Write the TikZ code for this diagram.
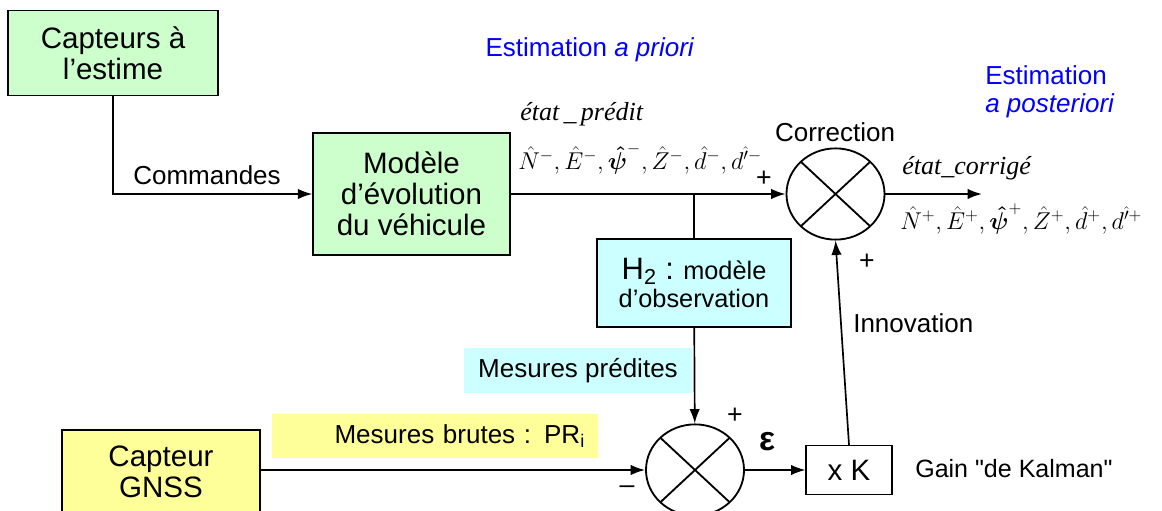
\documentclass[tikz,border=0pt]{standalone}
\usepackage{amsmath}
\usepackage{fontspec}
\setmainfont{Liberation Sans}
\newfontfamily\timesf{Liberation Serif}
\usetikzlibrary{arrows.meta, positioning, calc, shapes.geometric}
\definecolor{kfgreen}{HTML}{CCFFCC}
\definecolor{kfcyan}{HTML}{CCFFFF}
\definecolor{kfyellow}{HTML}{FFFF99}
\definecolor{kfblue}{HTML}{0000FF}
\tikzset{
  bloc/.style={rectangle, draw=black, line width=0.9pt, inner sep=0pt, align=center,
    font=\fontsize{21}{22}\selectfont},
  etiq/.style={inner sep=0pt, align=center, font=\fontsize{18.5}{21}\selectfont},
  fond/.style={rectangle, inner sep=0pt, align=center, font=\fontsize{18.5}{21}\selectfont},
  somme/.style={ellipse, draw=black, line width=1.3pt, minimum width=2.45cm, minimum height=2.28cm,
    inner sep=0pt,
    path picture={
      \draw[line width=1.3pt] ($(path picture bounding box.center)!0.707!(path picture bounding box.north west)$)
        -- ($(path picture bounding box.center)!0.707!(path picture bounding box.south east)$);
      \draw[line width=1.3pt] ($(path picture bounding box.center)!0.707!(path picture bounding box.north east)$)
        -- ($(path picture bounding box.center)!0.707!(path picture bounding box.south west)$);
    }},
  fleche/.style={-{Latex[length=3.6mm, width=2.6mm]}, line width=1.2pt},
  lien/.style={line width=1.2pt},
  signe/.style={inner sep=0pt, font=\fontsize{19}{21}\selectfont},
  etat/.style={inner sep=0pt, anchor=west, font=\fontsize{18.5}{21}\selectfont\timesf\itshape},
}

\begin{document}
\begin{tikzpicture}[x=0.025cm, y=-0.025cm]
  \useasboundingbox (0,0) rectangle (1162,511);
  % blocs
  \node[bloc, fill=kfgreen, minimum width=5.25cm, minimum height=2.125cm] (capt) at (113,53) {Capteurs à\\l’estime};
  \node[bloc, fill=kfgreen, minimum width=4.925cm, minimum height=3.05cm] (modele) at (411.5,194) {Modèle\\d’évolution\\du véhicule};
  \node[somme] (corr) at (835.5,194) {};
  \node[bloc, fill=kfcyan, minimum width=4.85cm, minimum height=2.2cm, font=\fontsize{18}{20}\selectfont] (h2) at (694,283)
    {{\fontsize{22}{20}\selectfont H\textsubscript{2} :} modèle\\d’observation};
  \node[somme] (sommeb) at (695,470) {};
  \node[bloc, fill=kfyellow, minimum width=4.95cm, minimum height=2.1cm] (gnss) at (161,472) {Capteur\\GNSS};
  \node[bloc, fill=white, line width=0.8pt, minimum width=2.15cm, minimum height=1.225cm] (xk) at (849,470) {x K};
  % fonds colores
  \node[fond, fill=kfcyan, minimum width=5.7cm, minimum height=1.125cm] (mesp) at (578,370.5) {Mesures prédites};
  \node[fond, fill=kfyellow, minimum height=1.1cm, text width=7.5cm, inner xsep=0.325cm, align=right]
    (mesb) at (435,436) {Mesures brutes : PR\textsubscript{i}};
  % etiquettes
  \node[etiq] (cmd) at (207,175) {Commandes};
  \node[etiq] (lcorr) at (835,132) {Correction};
  \node[etiq, anchor=west] (innov) at (853,323) {Innovation};
  \node[etiq, anchor=west, font=\fontsize{17.8}{21}\selectfont] (gain) at (915,469) {Gain \textquotedbl de Kalman\textquotedbl};
  \node[etiq, text=kfblue] (apriori) at (590,50) {Estimation \textit{a priori}};
  \node[etiq, text=kfblue, anchor=west] (estim) at (985,75) {Estimation};
  \node[etiq, text=kfblue, anchor=west] (apost) at (985,106) {\textit{a posteriori}};
  \node[etat] (etatp) at (520,114) {état\,\_\,prédit};
  \node[etat, font=\fontsize{17.5}{20}\selectfont] (vecp) at (518,159)
    {$\hat{N}^{-},\hat{E}^{-},\boldsymbol{\hat{\psi}}^{-},\hat{Z}^{-},\hat{d}^{-},d^{\hat{\prime}-}$};
  \node[etat] (etatc) at (902,168) {état\_corrigé};
  \node[etat, font=\fontsize{17.5}{20}\selectfont] (vecc) at (900,219)
    {$\hat{N}^{+},\hat{E}^{+},\boldsymbol{\hat{\psi}}^{+},\hat{Z}^{+},\hat{d}^{+},d^{\hat{\prime}+}$};
  \node[signe] (p1) at (764,179) {+};
  \node[signe] (p2) at (867,262) {+};
  \node[signe] (p3) at (735,416) {+};
  \node[signe] (m1) at (627,490) {\textendash};
  \node[inner sep=0pt, font=\fontsize{24}{24}\selectfont\bfseries] (eps) at (767,442) {ε};
  \coordinate (sortie) at (982,194);
  % liaisons
  \draw[fleche] (capt.south) |- (modele.west);
  \foreach \a/\b in {modele/corr, sommeb/xk, corr/sortie, h2/sommeb}
    \draw[fleche] (\a) -- (\b);
  \draw[lien] (modele.east -| h2.north) -- (h2.north);
  \draw[fleche] (sommeb.west -| gnss.east) -- (sommeb.west);
  \draw[fleche] (xk.north) -- (corr.south);
\end{tikzpicture}
\end{document}
